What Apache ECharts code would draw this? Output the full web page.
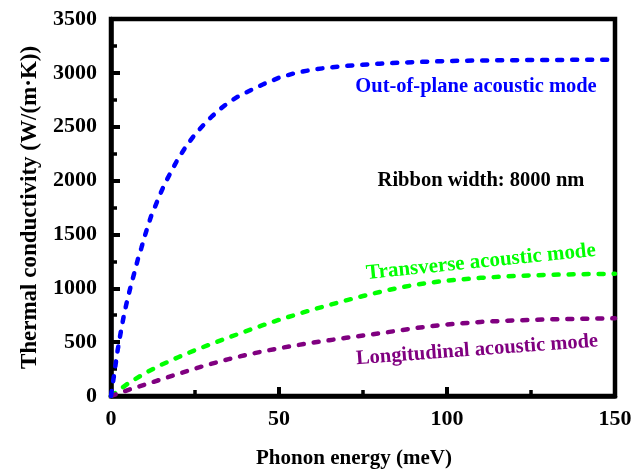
<!DOCTYPE html>
<html>
<head>
<meta charset="utf-8">
<script src="https://cdn.jsdelivr.net/npm/echarts@6/dist/echarts.min.js"></script>
<style>html,body{margin:0;padding:0;background:#fff}#c{width:633px;height:472px}</style>
</head>
<body>
<div id="c"></div>
<script>
const outPlaneX = [0,1,2,3,4,5,6,7,8,9,10,11,12,13,14,15,16,18,20,22.5,25,27.5,30,32.5,35,37.5,40,45,50,55,60,65,70,80,90,100,110,120,130,140,150];
const outPlaneY = [0,215,430,610,775,910,1035,1150,1270,1370,1480,1580,1675,1750,1825,1900,1970,2090,2205,2325,2430,2515,2595,2665,2725,2775,2815,2890,2955,3000,3030,3050,3065,3085,3100,3110,3115,3118,3120,3121,3122];
const modeX = [0,5,10,15,20,25,30,35,40,45,50,55,60,65,70,75,80,85,90,95,100,110,120,130,140,150];
const transverseY = [0,115,210,290,360,425,485,543,600,655,707,755,802,845,888,928,966,1000,1030,1053,1071,1097,1114,1125,1131,1135];
const longitudinalY = [0,55,105,155,205,255,300,342,380,413,443,470,495,518,540,561,582,605,628,648,664,688,702,711,717,721];
const xTicks = [0,50,100,150];
const yTicks = [0,500,1000,1500,2000,2500,3000,3500];

const FONT = 'Liberation Serif';
const pairs = (xs, ys) => xs.map((x, i) => [x, ys[i]]);
const chart = echarts.init(document.getElementById('c'), null, {renderer: 'canvas'});

function dashed(color) {
  return {type: [5, 10], width: 4.5, color: color, cap: 'round', join: 'round'};
}

const axisCommon = {
  axisLine: {show: true, lineStyle: {color: '#000', width: 4.5}},
  axisTick: {show: true, inside: true, length: 9, lineStyle: {color: '#000', width: 4}},
  minorTick: {show: true, splitNumber: 2, length: 6, lineStyle: {color: '#000', width: 3.5}},
  splitLine: {show: false},
  axisLabel: {color: '#000', fontFamily: FONT, fontWeight: 'bold', fontSize: 22, formatter: v => String(v)},
  nameTextStyle: {color: '#000', fontFamily: FONT, fontWeight: 'bold', fontSize: 21}
};

chart.setOption({
  animation: false,
  backgroundColor: '#fff',
  grid: {left: 111, right: 18, top: 19, bottom: 76, containLabel: false, outerBoundsMode: 'none', show: true, borderColor: '#000', borderWidth: 4.5, backgroundColor: 'transparent'},
  xAxis: Object.assign({}, axisCommon, {
    type: 'value', min: xTicks[0], max: xTicks[xTicks.length - 1], interval: 50,
    name: 'Phonon energy (meV)', nameLocation: 'middle', nameGap: 52,
    nameTextStyle: Object.assign({}, axisCommon.nameTextStyle, {padding: [0, 18, 0, 0]}),
    axisLabel: Object.assign({}, axisCommon.axisLabel, {margin: 12})
  }),
  yAxis: Object.assign({}, axisCommon, {
    type: 'value', min: yTicks[0], max: yTicks[yTicks.length - 1], interval: 500,
    name: 'Thermal conductivity (W/(m\u00B7K))', nameLocation: 'middle', nameGap: 69,
    nameTextStyle: Object.assign({}, axisCommon.nameTextStyle, {fontSize: 23}),
    axisLabel: Object.assign({}, axisCommon.axisLabel, {margin: 14})
  }),
  series: [
    {name: 'Out-of-plane acoustic mode', type: 'line', smooth: false, showSymbol: false, data: pairs(outPlaneX, outPlaneY), lineStyle: dashed('#0000ff'), z: 3},
    {name: 'Transverse acoustic mode', type: 'line', smooth: false, showSymbol: false, data: pairs(modeX, transverseY), lineStyle: dashed('#00ff00'), z: 2},
    {name: 'Longitudinal acoustic mode', type: 'line', smooth: false, showSymbol: false, data: pairs(modeX, longitudinalY), lineStyle: dashed('#800080'), z: 2}
  ],
  graphic: [
    {type: 'text', x: 476, y: 87, style: {text: 'Out-of-plane acoustic mode', fill: '#0000ff', font: 'bold 20.5px "Liberation Serif"', align: 'center', verticalAlign: 'middle'}},
    {type: 'text', x: 481, y: 181, style: {text: 'Ribbon width: 8000 nm', fill: '#000', font: 'bold 20.5px "Liberation Serif"', align: 'center', verticalAlign: 'middle'}},
    {type: 'text', x: 481, y: 262, rotation: 0.1, style: {text: 'Transverse acoustic mode', fill: '#00ff00', font: 'bold 21px "Liberation Serif"', align: 'center', verticalAlign: 'middle'}},
    {type: 'text', x: 477, y: 350, rotation: 0.073, style: {text: 'Longitudinal acoustic mode', fill: '#800080', font: 'bold 20.5px "Liberation Serif"', align: 'center', verticalAlign: 'middle'}}
  ]
});
</script>
</body>
</html>
